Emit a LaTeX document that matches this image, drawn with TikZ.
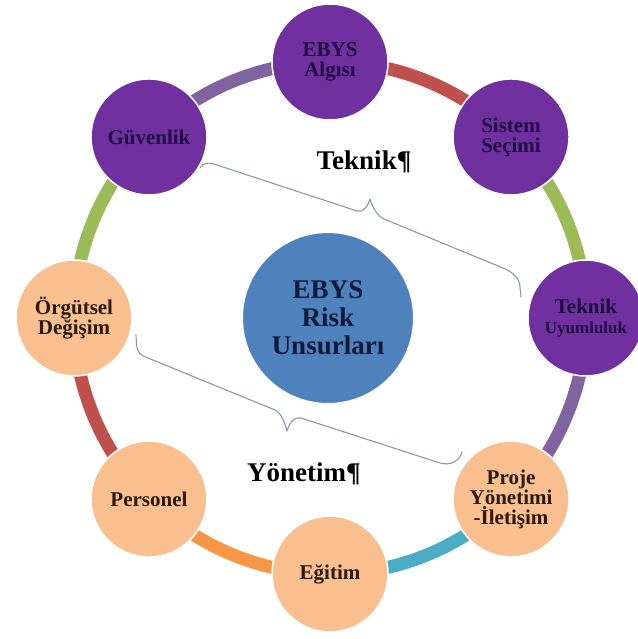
\documentclass[tikz,border=0pt]{standalone}
\usepackage{fontspec}
\setmainfont{Liberation Serif}
\usetikzlibrary{backgrounds}
\definecolor{purp}{HTML}{7030A0}
\definecolor{peach}{HTML}{F9BF8F}
\definecolor{cblue}{HTML}{4F81BD}
\definecolor{navytxt}{HTML}{1E0E42}
\definecolor{browntxt}{HTML}{2A190D}
\definecolor{ctrtxt}{HTML}{0D1B3A}
\definecolor{cred}{HTML}{C0504D}
\definecolor{cgreen}{HTML}{9BBB59}
\definecolor{clav}{HTML}{8064A2}
\definecolor{caqua}{HTML}{4BACC6}
\definecolor{corange}{HTML}{F79646}
\definecolor{bracecol}{HTML}{8A97AD}
\tikzset{
  ringnode/.style={circle, minimum size=116pt, inner sep=0pt, draw=white, line width=1.5pt,
    align=center, font=\fontsize{21}{20}\selectfont\bfseries},
  technode/.style={ringnode, fill=purp, text=navytxt},
  mgmtnode/.style={ringnode, fill=peach, text=browntxt},
  centernode/.style={circle, minimum size=171pt, inner sep=0pt, fill=cblue, draw=white, line width=1pt,
    align=center, text=ctrtxt, font=\fontsize{27}{28}\selectfont\bfseries},
  grouplabel/.style={anchor=base, inner sep=0pt, font=\fontsize{27}{28}\selectfont\bfseries, text=black},
  ringlink/.style={line width=13pt, bend left=22.5, looseness=0.885},
  bracepath/.style={draw=bracecol, line width=1.1pt, line cap=round, line join=round}
}
\begin{document}
\begin{tikzpicture}[x=1pt,y=1pt]
\useasboundingbox (0,0) rectangle (637,-639);
\coordinate (C) at (330,-318);

\node[centernode] (ctr) at (328,-318) {EBYS\\Risk\\Unsurları};

\node[technode] (alg) at ([shift={(90:256)}]C) {EBYS\\Algısı};
\node[technode] (sis) at ([shift={(45:256)}]C) {Sistem\\Seçimi};
\node[technode] (tek) at ([shift={(0:256)}]C) {Teknik\\{\fontsize{17}{18}\selectfont Uyumluluk}};
\node[mgmtnode] (pro) at ([shift={(-45:256)}]C) {Proje\\Yönetimi\\-İletişim};
\node[mgmtnode] (egi) at ([shift={(-90:256)}]C) {Eğitim};
\node[mgmtnode] (per) at ([shift={(-135:256)}]C) {Personel};
\node[mgmtnode] (org) at ([shift={(180:256)}]C) {Örgütsel\\Değişim};
\node[technode] (guv) at ([shift={(135:256)}]C) {Güvenlik};

\begin{scope}[on background layer]
  \draw[ringlink, cred] (alg.center) to (sis.center);
  \draw[ringlink, cgreen] (sis.center) to (tek.center);
  \draw[ringlink, clav] (tek.center) to (pro.center);
  \draw[ringlink, caqua] (pro.center) to (egi.center);
  \draw[ringlink, corange] (egi.center) to (per.center);
  \draw[ringlink, cred] (per.center) to (org.center);
  \draw[ringlink, cgreen] (org.center) to (guv.center);
  \draw[ringlink, clav] (guv.center) to (alg.center);
\end{scope}

\node[grouplabel] (lblT) at (364,-169) {Teknik¶};
\node[grouplabel] (lblY) at (304,-481) {Yönetim¶};

% brace of the technical group
\draw[bracepath] (200,-168) .. controls (203,-163) and (207,-162) .. (214,-164)
  -- (357,-211) .. controls (363,-213) and (368,-206) .. (370,-199)
  .. controls (372,-207) and (378,-216.5) .. (384,-219)
  -- (503,-268) .. controls (511,-271) and (520,-278) .. (520,-287) -- (521,-297);

% brace of the management group
\draw[bracepath] (136,-335) -- (136.5,-345) .. controls (137,-352) and (141,-356) .. (148,-358)
  -- (275,-410) .. controls (281,-412.5) and (285,-423) .. (287,-431)
  .. controls (289,-423) and (295,-416) .. (301,-418)
  -- (440,-463) .. controls (450,-466) and (460,-461) .. (462,-452);
\end{tikzpicture}
\end{document}
